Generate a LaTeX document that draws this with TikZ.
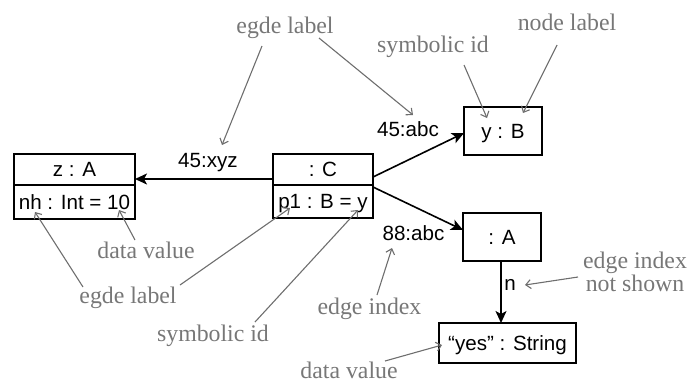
\documentclass[tikz,border=0pt]{standalone}
\usepackage{fontspec}
\setmainfont{Liberation Serif}
\setsansfont{Liberation Sans}
\usetikzlibrary{arrows.meta}
\definecolor{anncol}{HTML}{777777}
\definecolor{annline}{HTML}{6E6E6E}
\begin{document}
\begin{tikzpicture}[x=0.5pt,y=-0.5pt,
 box/.style={draw,line width=0.9pt,inner sep=0pt,outer sep=0pt,text height=7.4pt,text depth=0pt,font=\sffamily\fontsize{10.3}{12}\selectfont},
 elabel/.style={inner sep=0pt,text height=7.4pt,text depth=0pt,font=\sffamily\fontsize{10.3}{12}\selectfont},
 nlabel/.style={inner sep=0pt,font=\sffamily\fontsize{10.3}{12}\selectfont},
 rel/.style={line width=0.8pt,-{Stealth[length=6pt,width=5.5pt,inset=1.5pt]}},
 ann/.style={inner sep=0pt,text=anncol,font=\fontsize{11.9}{10.5}\selectfont,align=center},
 annarrow/.style={annline,line width=0.55pt,-{Straight Barb[length=2.5pt,width=4.5pt]}}]
\useasboundingbox (0,0) rectangle (689,381);

% object boxes
\node[box,minimum width=60.5pt,minimum height=15.5pt] (zA) at (74.5,169.5) {z : A};
\node[box,minimum width=60.5pt,minimum height=17pt,anchor=north] (zAa) at (zA.south) {nh : Int = 10};
\node[box,minimum width=50pt,minimum height=15.5pt] (C) at (323,169.5) {: C};
\node[box,minimum width=50pt,minimum height=16.5pt,anchor=north] (Ca) at (C.south) {p1 : B = y};
\node[box,minimum width=39pt,minimum height=24pt] (yB) at (503,131) {y : B};
\node[box,minimum width=39pt,minimum height=24pt] (A) at (502,237) {: A};
\node[box,minimum width=68.5pt,minimum height=20pt] (S) at (507.5,343) {“yes” : String};

% relations
\draw[rel] ([yshift=3pt]C.south west) -- ([yshift=3pt]zA.south east);
\draw[rel] ([yshift=4pt]C.south east) -- ([yshift=-1pt]yB.west);
\draw[rel] ([yshift=-1pt]Ca.north east) -- ([yshift=3.5pt]A.west);
\draw[rel] (A.south -| 501,0) -- (S.north -| 501,0);

% edge labels
\node[elabel] (l1) at (208,160) {45:xyz};
\node[elabel] (l2) at (408,129.5) {45:abc};
\node[elabel] (l3) at (413.5,233.5) {88:abc};
\node[nlabel] (l4) at (510,285) {n};

% annotations
\node[ann] (a1) at (285,28) {egde label};
\node[ann] (a2) at (567,22) {node label};
\node[ann] (a3) at (433,46.5) {symbolic id};
\node[ann] (a4) at (146,250.5) {data value};
\node[ann] (a5) at (128,297.5) {egde label};
\node[ann] (a6) at (213,335.5) {symbolic id};
\node[ann] (a7) at (369.5,308.5) {edge index};
\node[ann] (a8) at (635,272) {edge index\\not shown};
\node[ann] (a9) at (349,370) {data value};

% annotation arrow endpoints
\coordinate (s1) at (262,46);   \coordinate (t1) at (222,145);
\coordinate (s2) at (319,38);   \coordinate (t2) at (413,115);
\coordinate (s3) at (464,65);   \coordinate (t3) at (487,118);
\coordinate (s4) at (557,45);   \coordinate (t4) at (523,113);
\coordinate (s5) at (135,240);  \coordinate (t5) at (119,210);
\coordinate (s6) at (83,287);   \coordinate (t6) at (35,212);
\coordinate (s7) at (180,285);  \coordinate (t7) at (290,208);
\coordinate (s8) at (255,322);  \coordinate (t8) at (358,210);
\coordinate (s9) at (377,295);  \coordinate (t9) at (392,248);
\coordinate (s10) at (578,277); \coordinate (t10) at (525,285);
\coordinate (s11) at (385,361); \coordinate (t11) at (442,345);

\foreach \i in {1,...,11} {\draw[annarrow] (s\i) -- (t\i);}
\end{tikzpicture}
\end{document}
